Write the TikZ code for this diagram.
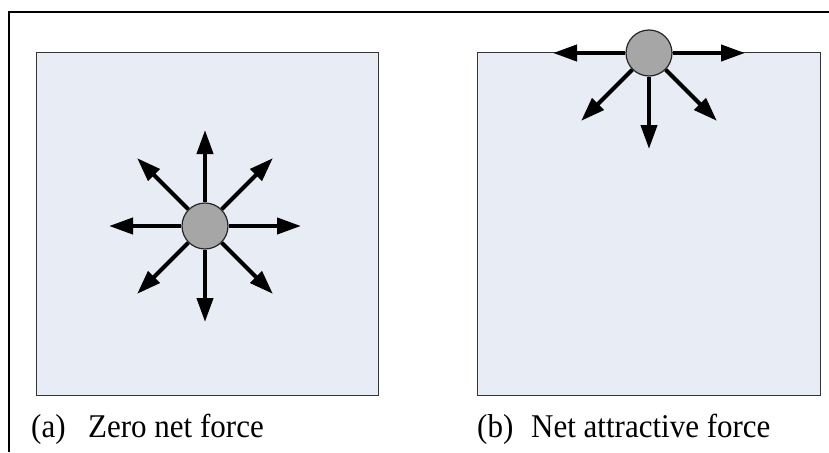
\documentclass[tikz,border=0pt]{standalone}
\usepackage{fontspec}
\setmainfont{Liberation Serif}
\usetikzlibrary{arrows.meta, positioning}
\definecolor{panelblue}{HTML}{E8ECF4}
\definecolor{moleculegray}{HTML}{A6A6A6}
\newcommand{\tallcap}[1]{\scalebox{1}[1.07]{#1}}

\begin{document}
\begin{tikzpicture}[
  x=1pt, y=-1pt,
  panel/.style={draw=black!80, line width=1pt, fill=panelblue, inner sep=0pt},
  molecule/.style={draw=black!85, circle, line width=1.2pt, fill=moleculegray, minimum size=46pt, inner sep=0pt},
  force/.style={line width=4pt, -{Triangle[length=24pt, width=16pt]}},
  caption/.style={font=\fontsize{31}{37}\selectfont, anchor=base west, inner sep=0pt},
]
  \useasboundingbox (0,0) rectangle (829,452);
  \draw[line width=1.3pt] (9,452) -- (9,12) -- (829,12);

  \node[panel, minimum width=342pt, minimum height=342pt] (pa) at (207,224) {};
  \node[panel, minimum width=343pt, minimum height=342pt] (pb) at (648.5,224) {};

  \node[molecule] (ca) at (205,226) {};
  \node[molecule] (cb) at (649,53) {};

  \foreach \a in {0,45,...,315} {
    \path (ca.center) ++(\a:96) coordinate (ta\a);
    \draw[force] (ca) -- (ta\a);
  }
  \foreach \a in {0,45,90,135,180} {
    \path (cb.center) ++(\a:96) coordinate (tb\a);
    \draw[force] (cb) -- (tb\a);
  }

  \node[caption] (taga) at (31,437) {\tallcap{(a)}};
  \node[caption] (capa) at (88,437) {\tallcap{Zero net force}};
  \node[caption] (tagb) at (477,437) {\tallcap{(b)}};
  \node[caption] (capb) at (531,437) {\tallcap{Net attractive force}};
\end{tikzpicture}
\end{document}
